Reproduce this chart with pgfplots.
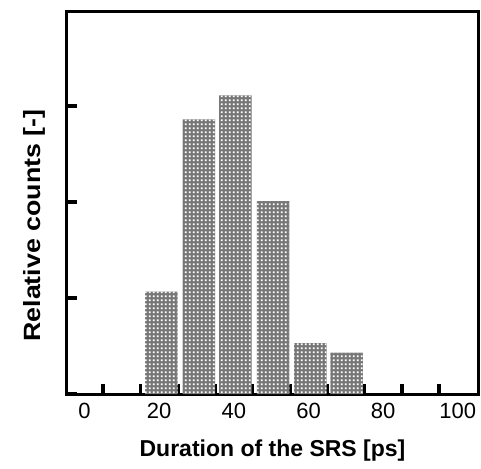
\documentclass[border=0pt]{standalone}
\usepackage{pgfplots}
\pgfplotsset{compat=1.18}
\usetikzlibrary{patterns.meta}
\usepackage{graphicx}
\usepackage{fontspec}
\setmainfont{Liberation Sans}
\definecolor{barfill}{HTML}{777777}
\tikzdeclarepattern{
  name=whitedots,
  type=uncolored,
  bottom left={(0pt,0pt)},
  top right={(3.7pt,3.7pt)},
  tile size={(3.7pt,3.7pt)},
  code={\pgfpathrectangle{\pgfpoint{1pt}{1pt}}{\pgfpoint{1.7pt}{1.7pt}}\pgfusepath{fill}}
}
\begin{document}
\begin{tikzpicture}
\useasboundingbox (-67pt,-74pt) rectangle (414pt,394pt);
\begin{axis}[
  ybar, bar width=8.7,
  at={(0pt,0pt)}, anchor=south west,
  scale only axis, width=411pt, height=382pt,
  xmin=-4.7, xmax=105.4, ymin=0, ymax=3.98,
  axis line style={line width=3pt, black},
  xtick={5,15,...,95}, xticklabels={},
  extra x ticks={0,20,...,100},
  extra x tick style={xtick style={draw=none}},
  major tick length=10.5pt,
  tick align=inside, xtick align=inside, ytick align=inside,
  tick style={line width=3.5pt, black, line cap=butt},
  ytick={0,1,2,3}, yticklabels={},
  ytick pos=left, xtick pos=bottom,
  /pgf/number format/assume math mode=true,
  tick label style={font=\fontsize{22}{26}\selectfont},
  xticklabel style={yshift=-6pt},
  xlabel={\textbf{Duration of the SRS [ps]}},
  ylabel={\scalebox{1.14}[1]{\textbf{Relative counts [-]}}},
  xlabel style={font=\fontsize{23}{27}\selectfont, at={(axis description cs:0.5,0)}, anchor=north, yshift=-42pt},
  ylabel style={font=\fontsize{23.5}{28}\selectfont, at={(axis description cs:-0.045,0.441)}, anchor=south},
]
\addplot[draw=none, fill=barfill, postaction={pattern={whitedots}, pattern color=white}] coordinates {
  (20.6,1.066) (30.6,2.86) (40.4,3.11) (50.5,2.01) (60.5,0.53) (70.2,0.43)
};
\end{axis}
\end{tikzpicture}
\end{document}
